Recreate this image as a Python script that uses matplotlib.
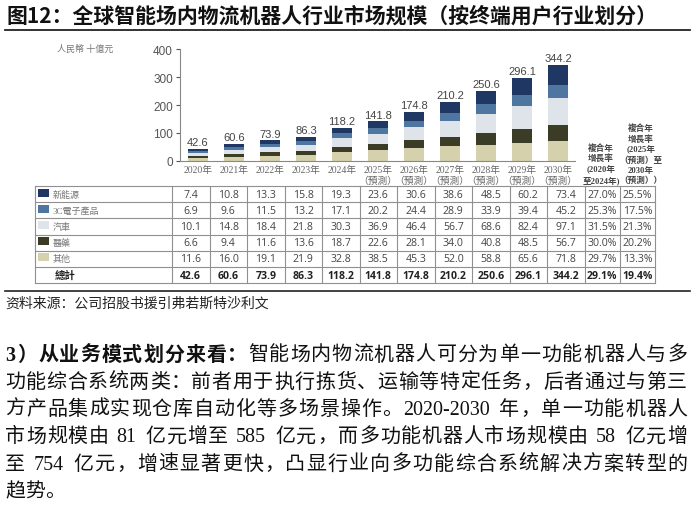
import matplotlib
matplotlib.use('Agg')
import matplotlib.pyplot as plt
import matplotlib.patches as mpatches
import numpy as np

# data ==========================================================
years = ['2020', '2021', '2022', '2023', '2024', '2025', '2026', '2027', '2028', '2029', '2030']
forecast_from = 2025
new_energy = [7.4, 10.8, 13.3, 15.8, 19.3, 23.6, 30.6, 38.6, 48.5, 60.2, 73.4]
electronics = [6.9, 9.6, 11.5, 13.2, 17.1, 20.2, 24.4, 28.9, 33.9, 39.4, 45.2]
auto = [10.1, 14.8, 18.4, 21.8, 30.3, 36.9, 46.4, 56.7, 68.6, 82.4, 97.1]
medical = [6.6, 9.4, 11.6, 13.6, 18.7, 22.6, 28.1, 34.0, 40.8, 48.5, 56.7]
other = [11.6, 16.0, 19.1, 21.9, 32.8, 38.5, 45.3, 52.0, 58.8, 65.6, 71.8]
totals = [42.6, 60.6, 73.9, 86.3, 118.2, 141.8, 174.8, 210.2, 250.6, 296.1, 344.2]
cagr_20_24 = ['27.0%', '25.3%', '31.5%', '30.0%', '29.7%', '29.1%']
cagr_25_30 = ['25.5%', '17.5%', '21.3%', '20.2%', '13.3%', '19.4%']
series_names = ['新能源', '3C電子產品', '汽車', '醫藥', '其他']
series_colors = ['#1f3763', '#4f76a0', '#dfe3ea', '#3b3c25', '#d5d1ad']
# ===============================================================

SC = ['Noto Sans CJK SC', 'DejaVu Sans']
TC_SERIF = ['Liberation Serif', 'Noto Sans CJK TC']
SC_SERIF = ['Liberation Serif', 'Noto Sans CJK SC']

fig = plt.figure(figsize=(6.92, 5.06), dpi=100)
W, H = 692, 506

# full-figure overlay in pixel coords
bg = fig.add_axes([0, 0, 1, 1])
bg.set_xlim(0, W)
bg.set_ylim(H, 0)
bg.axis('off')

# title + rules
bg.text(7, 16, '图12：全球智能场内物流机器人行业市场规模（按终端用户行业划分）',
        fontsize=15.0, fontweight='bold', family=SC, va='center', color='#111')
bg.plot([5, 690], [31, 31], color='#222', lw=1.3)
bg.plot([5, 690], [292, 292], color='#222', lw=1.2)
bg.text(57, 49, '人民幣 十億元', fontsize=6.5, family=TC_SERIF, color='#777', va='center')

# bar chart =====================================================
ax = fig.add_axes([180 / W, (H - 162) / H, 395 / W, 112 / H])
x = np.arange(len(years))
stack = [other, medical, auto, electronics, new_energy]
stack_colors = series_colors[::-1]
bottom = np.zeros(len(years))
for vals, col in zip(stack, stack_colors):
    ax.bar(x, vals, bottom=bottom, width=0.57, color=col, edgecolor='none')
    bottom += np.array(vals)
for xi, t in zip(x, totals):
    ax.text(xi, t + 6, f'{t:.1f}', ha='center', va='bottom', fontsize=8,
            family='Liberation Sans', color='#444')

ax.set_xlim(-0.5, 10.47)
ax.set_ylim(0, 400)
ax.set_yticks([0, 100, 200, 300, 400])
ax.tick_params(axis='y', labelsize=8.5, colors='#555', length=3, width=0.8, pad=2)
for lab in ax.get_yticklabels():
    lab.set_family('Liberation Sans')
xlabels = [y + '年' + ('\n（預測）' if int(y) >= forecast_from else '') for y in years]
ax.set_xticks(x)
ax.set_xticklabels(xlabels, fontsize=7, family=TC_SERIF, color='#666', va='top', linespacing=1.15)
ax.tick_params(axis='x', length=0, pad=3)
for s in ['top', 'right']:
    ax.spines[s].set_visible(False)
ax.spines['left'].set_color('#888')
ax.spines['bottom'].set_color('#888')
ax.spines['left'].set_linewidth(0.8)
ax.spines['bottom'].set_linewidth(0.8)
ax.set_facecolor('none')

# CAGR headers
bg.text(601, 185, '複合年\n增長率\n(2020年\n至2024年)', ha='center', va='bottom', fontsize=6.2,
        fontweight='bold', family=TC_SERIF, color='#444', linespacing=1.3, multialignment='center')
bg.text(641, 185, '複合年\n增長率\n(2025年\n（預測）至\n2030年\n（預測））', ha='center', va='bottom',
        fontsize=6.2, fontweight='bold', family=TC_SERIF, color='#444', linespacing=1.3,
        multialignment='center')

# table =========================================================
col_x = [35, 172] + [172 + 37.5 * k for k in range(1, 12)] + [620, 655]
top, row_h = 187, 16.2
n_rows = 6
row_y = [top + row_h * k for k in range(n_rows + 1)]
grid = '#909090'
for cx in col_x:
    bg.plot([cx, cx], [row_y[0], row_y[-1]], color=grid, lw=0.8)
for ry in row_y:
    bg.plot([col_x[0], col_x[-1]], [ry, ry], color=grid, lw=0.8)

rows = [new_energy, electronics, auto, medical, other, totals]
for r in range(n_rows):
    cy = row_y[r] + row_h / 2
    last = r == n_rows - 1
    if not last:
        bg.add_patch(mpatches.Rectangle((38, cy - 5.5), 11, 8, color=series_colors[r], lw=0))
        bg.text(53, cy, series_names[r], fontsize=6.5, family=TC_SERIF, color='#777', va='center')
    else:
        bg.text(55, cy, '總計', fontsize=7.5, family=['Noto Sans CJK TC'], fontweight='bold',
                color='#222', va='center')
    cells = [f'{v:.1f}' for v in rows[r]] + [cagr_20_24[r], cagr_25_30[r]]
    for k, c in enumerate(cells):
        xc = (col_x[k + 1] + col_x[k + 2]) / 2
        bg.text(xc, cy, c, ha='center', va='center', fontsize=7.6, family='Open Sans',
                fontweight='bold' if last else 'normal', color='#222' if last else '#444')

# source + paragraph ============================================
bg.text(5, 304, '资料来源：公司招股书援引弗若斯特沙利文', fontsize=10, family=SC_SERIF,
        color='#222', va='center')

renderer = fig.canvas.get_renderer()
PFS = 14.4
EM = PFS * 100 / 72


def put_line(parts, y, justify=True, x0=5, x1=687):
    tokens = []
    for s, w in parts:
        i = 0
        while i < len(s):
            ch = s[i]
            if ch.isascii() and ch != ' ':
                j = i
                while j < len(s) and s[j].isascii() and s[j] != ' ':
                    j += 1
                tokens.append((s[i:j], w))
                i = j
            else:
                tokens.append((ch, w))
                i += 1
    arts, widths = [], []
    for t, w in tokens:
        if t == ' ':
            arts.append(None)
            widths.append(0.3 * EM)
            continue
        a = bg.text(0, y, t, fontsize=PFS, fontweight=w, family=SC_SERIF, va='center', color='#111')
        arts.append(a)
        if t.isascii():
            widths.append(a.get_window_extent(renderer).width + 0.08 * EM)
        else:
            widths.append(EM)
    gap = (x1 - x0 - sum(widths)) / (len(tokens) - 1) if justify else 0
    xx = x0
    for a, wd in zip(arts, widths):
        if a is not None:
            a.set_x(xx)
        xx += wd + gap


lines = [
    [('3）从业务模式划分来看：', 'bold'), ('智能场内物流机器人可分为单一功能机器人与多', 'normal')],
    [('功能综合系统两类：前者用于执行拣货、运输等特定任务，后者通过与第三', 'normal')],
    [('方产品集成实现仓库自动化等多场景操作。2020-2030 年，单一功能机器人', 'normal')],
    [('市场规模由 81 亿元增至 585 亿元，而多功能机器人市场规模由 58 亿元增', 'normal')],
    [('至 754 亿元，增速显著更快，凸显行业向多功能综合系统解决方案转型的', 'normal')],
    [('趋势。', 'normal')],
]
for i, ln in enumerate(lines):
    put_line(ln, 356 + 27.3 * i, justify=(i < len(lines) - 1))

fig.savefig('out.png', dpi=100, facecolor='white')
